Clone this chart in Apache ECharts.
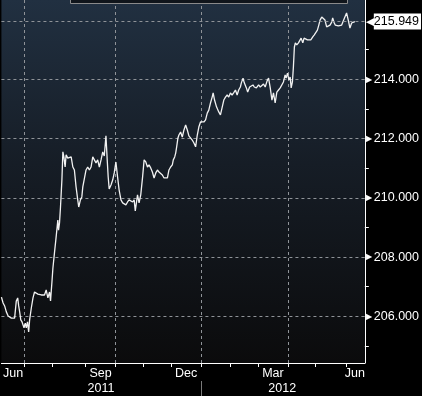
<!DOCTYPE html>
<html>
<head>
<meta charset="utf-8">
<title>chart</title>
<script src="https://cdn.jsdelivr.net/npm/echarts@6/dist/echarts.min.js"></script>
<style>
html, body { margin: 0; padding: 0; background: #000; }
#main { width: 422px; height: 396px; }
</style>
</head>
<body>
<div id="main"></div>
<script>
// trading day index (0 = left edge of the plot) and price
var tradeDay = [0, 1.2, 2.3, 3.5, 4.8, 5.9, 7.1, 8.3, 9.4, 10.6, 11.6, 12.3, 13.0, 13.8, 14.7, 15.4, 16.1, 17.0, 17.7, 18.6,
	19.4, 20.1, 21.3, 22.5, 23.6, 24.8, 26.0, 27.2, 28.4, 29.6, 30.7, 31.9, 33.1, 34.3, 35.0, 36.0, 36.7, 37.8, 39.0, 40.2,
	40.7, 41.4, 42.1, 43.1, 43.8, 44.5, 45.4, 46.1, 47.3, 48.5, 49.7, 50.9, 52.0, 53.2, 54.4, 55.1, 56.3, 57.3, 58.0, 59.1,
	60.3, 61.5, 62.7, 63.9, 65.1, 66.2, 67.4, 68.6, 69.8, 71.0, 72.2, 73.3, 74.5, 75.4, 76.1, 76.8, 78.1, 79.3, 80.4, 81.6,
	82.8, 83.9, 85.2, 86.4, 87.5, 88.7, 89.9, 91.0, 92.2, 93.5, 94.6, 95.4, 96.5, 97.0, 98.1, 99.3, 100.6, 101.7, 102.9, 104.1,
	105.2, 106.4, 107.6, 108.8, 110.0, 111.2, 112.3, 113.5, 114.7, 115.9, 117.1, 118.3, 119.4, 120.6, 121.8, 122.5, 123.5, 124.2, 124.9, 125.8,
	126.5, 127.7, 128.9, 130.1, 131.3, 132.5, 133.6, 134.8, 136.0, 137.2, 138.4, 139.6, 140.7, 141.9, 143.1, 144.3, 145.5, 146.7, 147.8, 149.0,
	150.2, 150.9, 151.9, 153.3, 154.9, 156.1, 157.3, 158.5, 159.7, 160.9, 162.0, 163.2, 164.4, 165.5, 166.8, 168.0, 169.1, 170.3, 171.0, 172.2,
	173.1, 174.6, 175.5, 176.9, 177.9, 179.3, 180.2, 181.7, 182.6, 183.3, 184.5, 185.7, 186.8, 188.0, 189.3, 190.4, 191.6, 192.8, 193.9, 195.1,
	196.3, 197.5, 198.7, 199.9, 201.0, 202.2, 202.9, 203.9, 204.9, 205.8, 206.5, 207.4, 208.1, 208.8, 209.5, 210.5, 211.7, 212.9, 213.6, 214.8,
	215.7, 216.9, 218.1, 219.5, 220.5, 221.9, 223.0, 224.2, 225.2, 226.2, 227.1, 228.3, 229.4, 230.6, 231.8, 233.0, 234.2, 235.4, 236.1, 237.0,
	237.9, 238.9, 240.1, 241.3, 242.5, 243.6, 244.8, 246.0, 247.2, 248.4, 249.6, 250.7, 251.9];
var price = [206.65, 206.45, 206.35, 206.15, 206.01, 206.01, 205.94, 205.98, 205.94, 206.52, 206.62, 206.35, 206.15, 205.88, 205.81, 205.77, 205.61, 205.77, 205.61, 205.81,
	205.47, 205.88, 206.28, 206.62, 206.82, 206.85, 206.75, 206.79, 206.72, 206.69, 206.72, 206.89, 206.62, 206.82, 206.52, 207.16, 207.63, 208.14, 208.68, 209.25,
	208.91, 209.15, 209.69, 210.60, 211.55, 211.38, 211.04, 211.45, 211.34, 211.38, 211.38, 211.04, 210.94, 210.37, 209.93, 209.69, 209.93, 210.03, 210.37, 210.37,
	210.94, 211.04, 210.94, 211.04, 211.38, 211.34, 211.18, 211.28, 211.04, 211.28, 211.55, 211.41, 212.09, 211.28, 210.70, 210.30, 210.43, 210.60, 210.84, 211.21,
	210.70, 210.26, 209.93, 209.83, 209.86, 209.76, 209.86, 209.93, 209.99, 209.86, 209.93, 209.56, 209.93, 210.10, 209.83, 210.10, 210.70, 211.28, 211.21, 211.04,
	211.11, 211.01, 210.87, 210.67, 210.84, 210.94, 210.87, 210.87, 210.77, 210.67, 210.70, 210.67, 210.94, 211.04, 211.11, 211.28, 211.38, 211.51, 211.72, 212.02,
	212.12, 212.22, 212.05, 212.29, 212.46, 212.29, 212.09, 212.12, 211.95, 211.85, 211.72, 212.12, 212.39, 212.56, 212.59, 212.56, 212.63, 212.86, 212.96, 213.20,
	213.40, 213.54, 213.30, 213.07, 212.90, 212.80, 212.86, 213.30, 213.40, 213.47, 213.40, 213.54, 213.47, 213.54, 213.64, 213.47, 213.64, 213.74, 213.88, 214.04,
	213.88, 213.71, 213.57, 213.74, 213.71, 213.81, 213.74, 213.71, 213.74, 213.81, 213.74, 213.74, 213.84, 213.74, 213.94, 214.04, 213.71, 213.30, 213.54, 213.20,
	213.57, 213.64, 213.71, 213.71, 213.91, 214.15, 214.04, 214.21, 213.98, 214.08, 213.71, 213.91, 214.42, 215.09, 215.23, 215.16, 215.23, 215.26, 215.39, 215.23,
	215.39, 215.43, 215.33, 215.39, 215.33, 215.43, 215.50, 215.56, 215.66, 215.83, 216.00, 216.10, 216.07, 216.00, 215.77, 215.83, 215.83, 215.93, 216.07, 215.93,
	215.83, 215.87, 215.80, 215.77, 215.83, 215.77, 216.10, 216.24, 216.00, 215.73, 215.90, 215.93, 215.949];
var lastPrice = 215.949;

// month starts (Jul 2011 .. Jun 2012) on the trading day scale
var monthStarts = [16.5, 36.4, 59.8, 81.4, 101.3, 121.1, 142.4, 163.0, 182.9, 204.6, 224.0, 246.0];
var quarterStarts = [16.5, 81.4, 142.4, 204.6];
var monthLabelPos = [8.3, 70.7, 131.6, 193.5, 251.9];
var monthLabels = ['Jun', 'Sep', 'Dec', 'Mar', 'Jun'];
var yearLabelPos = [71.0, 200.1];
var yearLabels = ['2011', '2012'];
var yearBreak = [142.4];
var yMajor = [206, 208, 210, 212, 214];
var yMinor = [205, 207, 209, 211, 213, 215];

var gridDash = { color: '#8f9398', width: 1, type: [3, 3] };
var font = 'Liberation Sans';

function nearestLabel(pos, labels, v) {
	var best = 0;
	for (var i = 1; i < pos.length; i++) {
		if (Math.abs(pos[i] - v) < Math.abs(pos[best] - v)) best = i;
	}
	return labels[best];
}

var seriesData = [];
for (var i = 0; i < tradeDay.length; i++) {
	seriesData.push([tradeDay[i], price[i]]);
}

var myChart = echarts.init(document.getElementById('main'), null, { renderer: 'canvas' });

myChart.setOption({
	animation: false,
	backgroundColor: '#000',
	grid: {
		left: 0, right: 57, top: 0, bottom: 33,
		show: true,
		borderWidth: 0,
		backgroundColor: new echarts.graphic.LinearGradient(0, 0, 0, 1, [
			{ offset: 0, color: '#213041' },
			{ offset: 0.45, color: '#161d26' },
			{ offset: 1, color: '#0b0b0c' }
		])
	},
	graphic: [{
		// cut off legend box at the top
		type: 'rect', left: 70, top: -10, z: 10,
		shape: { width: 277, height: 13 },
		style: { fill: '#10151b', stroke: '#8a8a8a', lineWidth: 1 }
	}],
	xAxis: [{
		// month ticks + labels
		type: 'value', min: 0, max: 259, position: 'bottom',
		axisLine: { show: true, onZero: false, lineStyle: { color: '#ffffff', width: 1 } },
		axisTick: { show: true, length: 4, customValues: monthStarts, lineStyle: { color: '#ffffff' } },
		axisLabel: {
			customValues: monthLabelPos, margin: 4, color: '#ffffff', fontSize: 12.5, fontFamily: font,
			formatter: function (v) { return nearestLabel(monthLabelPos, monthLabels, v); }
		},
		splitLine: { show: false }
	}, {
		// years below, with the year break line
		type: 'value', min: 0, max: 259, position: 'bottom', offset: 18,
		axisLine: { show: false, onZero: false },
		axisTick: { show: true, length: 15, customValues: yearBreak, lineStyle: { color: '#7a7a7a' } },
		axisLabel: {
			customValues: yearLabelPos, margin: 1, color: '#ffffff', fontSize: 12.5, fontFamily: font,
			formatter: function (v) { return nearestLabel(yearLabelPos, yearLabels, v); }
		},
		splitLine: { show: false }
	}, {
		// quarter grid lines only
		type: 'value', min: 0, max: 259, position: 'bottom',
		axisLine: { show: false, onZero: false },
		axisTick: { show: false, customValues: quarterStarts },
		axisLabel: { show: false },
		splitLine: { show: true, lineStyle: gridDash }
	}],
	yAxis: [{
		type: 'value', position: 'right', min: 204.424, max: 216.677,
		axisLine: { show: true, onZero: false, lineStyle: { color: '#ffffff', width: 1 } },
		axisTick: { show: true, length: 1, customValues: yMajor, lineStyle: { color: '#ffffff' } },
		axisLabel: {
			customValues: yMajor, margin: 1,
			formatter: function (v) { return '{t|\u25B6}{v|' + v.toFixed(3) + '}'; },
			rich: {
				t: { fontSize: 8, color: '#ffffff', padding: [0, 2, 0, 0] },
				v: { fontSize: 12.5, color: '#ffffff', fontFamily: font }
			}
		},
		splitLine: { show: true, lineStyle: gridDash }
	}, {
		// minor ticks between the labels
		type: 'value', position: 'right', min: 204.424, max: 216.677,
		axisLine: { show: false, onZero: false },
		axisTick: { show: true, length: 4, customValues: yMinor, lineStyle: { color: '#ffffff', width: 1 } },
		axisLabel: { show: false },
		splitLine: { show: false }
	}],
	series: [{
		type: 'line',
		xAxisIndex: 0,
		yAxisIndex: 0,
		data: seriesData,
		showSymbol: false,
		lineStyle: { color: '#f2f2f2', width: 1.3 },
		markLine: {
			silent: true,
			symbol: 'none',
			lineStyle: gridDash,
			data: [{ yAxis: lastPrice }],
			label: {
				show: true, position: 'end', distance: 1,
				formatter: '{a|\u25C0}{b|' + lastPrice.toFixed(3) + '}',
				rich: {
					a: { fontSize: 11, color: '#ffffff' },
					b: { fontSize: 12.5, color: '#000000', backgroundColor: '#ffffff', padding: [2, 2, 1, 0], fontFamily: font }
				}
			}
		}
	}]
});
</script>
</body>
</html>
